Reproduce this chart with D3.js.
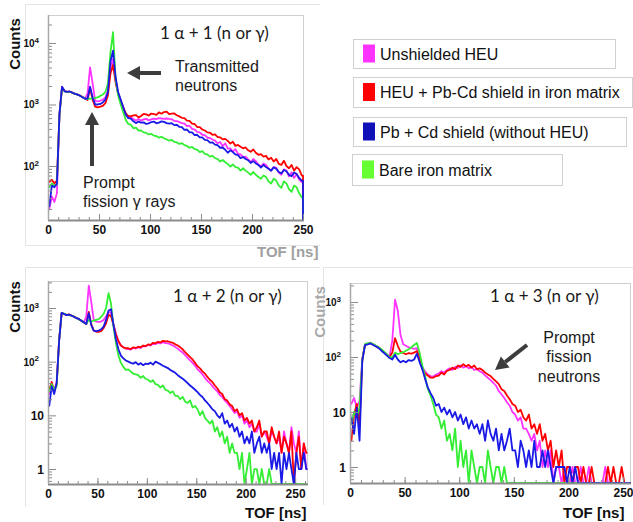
<!DOCTYPE html>
<html>
<head>
<meta charset="utf-8">
<script src="https://cdn.jsdelivr.net/npm/d3@7"></script>
<style>
  body { margin: 0; background: #fff; }
  svg { display: block; }
</style>
</head>
<body>
<script>
// TOF histograms, 2.5 ns bins starting at 0 ns
const binWidth = 2.5;
const seriesNames = ["Unshielded HEU", "HEU + Pb-Cd shield in iron matrix", "Pb + Cd shield (without HEU)", "Bare iron matrix"];
const seriesColors = ["#ff33ff", "#ff0000", "#1a1ae6", "#33ee33"];
const legendSwatch = ["#ff33ff", "#ff0000", "#1010b8", "#66ff33"];
const xTicks = [0, 50, 100, 150, 200, 250];

// panel 1 : 1 alpha + 1 (n or gamma)
const p1Heu = [20,32,26,36, 700,1900, 1660,1610,1600,1570,1510,1440,1410,1330,1260,1500,
  4000,2200,1150,1120,1150,1200,1300,1700, 4000,5500,2500,1500,1150,900,700,620,
  618,582,550,578, 548,572,584,552, 572,588,580,600, 592,582,592,584, 578,542,538,520,
  496,490,444,452, 402,392,358,352, 322,318,288,286, 270,258,234,246, 210,234,192,194,
  172,188,158,154, 140,142,128,116, 130,120,106,98, 110,104,90,84, 96,94,78,72, 88,84,68,79, 64,74,60,55];
const p1Shielded = [55,60,52,58, 700,1900, 1650,1600,1620,1560,1500,1450,1400,1320,1250,1180,
  1850,1200,920,900,920,950,1050,1400, 3200,4400,2300,1500,1150,900,720,650,
  640,665,672,618, 650,705,690,662, 712,700,676,745, 708,752,765,700, 712,715,668,640,
  608,600,548,540, 488,482,430,428, 392,378,352,348, 322,328,296,292, 272,276,256,232,
  248,212,220,206, 194,200,180,170, 186,164,152,156, 142,146,128,136, 118,130,108,104, 122,100,92,104, 84,96,88,70];
const p1PbCd = [22,48,45,52, 700,1950, 1640,1600,1630,1550,1490,1460,1390,1310,1240,1250,
  1950,1300,1000,1000,1020,1080,1200,1600, 5000,7500,2800,1600,1200,900,680,600,
  588,532,498,528, 508,512,482,492, 518,528,494,508, 532,522,498,488, 496,462,468,432,
  428,388,392,352, 352,318,322,292, 292,266,264,240, 242,222,218,198, 200,184,164,180,
  168,154,150,134, 140,130,124,112, 120,110,104,94, 104,96,90,84, 95,90,80,76, 86,82,72,68, 78,74,64,58];
const p1Iron = [45,52,48,50, 680,1850, 1650,1590,1610,1550,1500,1440,1400,1320,1260,1220,
  1250,1250,1280,1300,1380,1450,1600,2200, 7000,15000,2600,1400,1000,750,560,480,
  470,410,420,375, 380,352,345,326, 332,312,306,290, 298,282,272,258, 265,247,242,228,
  235,219,212,198, 204,188,184,168, 174,158,154,142, 146,134,130,118, 125,115,108,98,
  106,96,94,84, 92,84,78,72, 80,72,66,62, 70,66,56,52, 62,58,48,44, 56,52,42,38, 48,45,36,31];

// panel 2 : 1 alpha + 2 (n or gamma)
const p2Heu = [25,35,30,40, 250,790, 770,745,750,715,690,655,615,585,535,700,
  2600,1300,600,560,550,560,600,700, 850,800,500,330,240,200,185,175,
  172,168,180,176, 185,180,195,192, 205,200,215,212, 225,218,230,222, 220,210,200,188,
  175,160,148,132, 118,106,95,84, 72,65,58,50, 44,40,35,31, 28,24,22,19, 17,15,13,11,
  12,9,10,7, 8,6,7,5, 5,7,4,5, 4,3,5,4, 3,4,2,5, 3,2,6,3, 2,5,1,3, 1];
const p2Shielded = [30,42,28,38, 250,800, 780,740,760,720,690,650,620,580,540,500,
  850,500,380,360,360,370,420,520, 750,700,480,320,240,200,185,178,
  178,172,185,180, 190,185,200,195, 210,205,225,220, 235,228,245,238, 240,232,225,210,
  200,185,170,150, 135,122,110,95, 82,75,66,60, 52,46,42,36, 32,27,25,20, 19,16,15,12,
  13,10,11,8, 9,7,8,5, 6,8,4,5, 5,3,6,4, 3,5,2,4, 3,2,5,0, 2,4,1,3, 2];
const p2PbCd = [15,35,25,40, 240,810, 775,735,755,725,685,645,625,575,545,505,
  800,480,380,370,380,400,450,600, 900,950,480,260,170,130,115,105,
  100,95,92,98, 88,94,86,92, 90,96,88,100, 95,90,84,80, 76,70,66,62,
  56,52,48,44, 40,36,33,30, 27,24,22,19, 17,15,13,12, 10,9,11,7, 8,6,7,5,
  6,4,5,3, 4,3,5,2, 3,4,2,3, 2,3,1,2, 1,2,0,2, 1,2,1,0, 2,1,1,2, 1];
const p2Iron = [28,38,30,35, 245,790, 785,750,745,710,695,650,610,590,540,510,
  600,560,580,600,620,680,780,1000, 1900,1200,450,220,130,95,80,70,
  72,65,60,58, 56,50,54,48, 46,42,45,38, 37,33,36,30, 29,26,28,23,
  23,20,22,18, 17,19,14,15, 13,10,12,9, 8,7,8,5, 6,4,5,3, 4,2,3,2,
  2,1,2,0, 1,2,0,1, 1,0,1,0, 0,1,0,0, 0,0,0,0, 0,0,0,0, 0,0,0,0, 0];

// panel 3 : 1 alpha + 3 (n or gamma)
const p3Heu = [14,18,12,16, 90,168, 175,182,170,160,150,136,124,112,102,200,
  1100,700,250,170,160,150,145,140, 145,100,65,55,48,45,44,48,
  50,55,52,58, 62,58,66,63, 70,64,68,62, 66,58,60,55, 52,46,42,38,
  34,30,24,21, 18,15,13,10, 9,7,8,5, 5,4,3,4, 2,3,1,2,
  1,2,0,1, 1,0,1,0, 0,1,0,0, 1,0,0,1, 0,0,0,0, 0,1,0,0, 0,0,0,0, 0,0,0];
const p3Shielded = [3,9,14,6, 90,170, 172,178,168,158,148,135,122,110,100,120,
  220,160,125,118,112,118,115,120, 128,92,60,50,46,42,42,45,
  46,52,48,56, 58,64,60,70, 66,74,68,72, 64,70,60,62, 58,52,48,45,
  40,36,32,26, 24,20,17,14, 13,10,11,8, 7,9,5,6, 4,6,3,4,
  2,3,1,2, 1,2,0,1, 1,0,1,1, 0,1,0,0, 1,0,0,0, 0,0,1,0, 1,0,0,1, 0,0,0];
const p3PbCd = [8,4,12,3, 85,165, 170,176,165,155,145,130,118,106,96,90,
  110,90,80,85,80,88,85,90, 115,80,60,40,28,22,18,13,
  14,10,12,9, 11,8,10,7, 9,6,8,5, 7,5,6,4, 6,3,7,4,
  3,5,2,4, 2,3,5,2, 2,1,3,2, 1,2,1,3, 1,1,2,1,
  2,1,0,1, 1,1,1,0, 1,0,1,0, 0,0,0,0, 0,0,0,0, 0,0,0,0, 0,0,0,0, 0,0,0];
const p3Iron = [6,10,8,12, 88,172, 178,180,172,160,150,138,125,112,100,98,
  120,112,118,122,130,138,150,165, 180,120,70,45,26,20,14,9,
  8,5,7,3, 4,2,5,1, 3,1,2,0, 2,1,0,1, 1,0,2,1,
  0,1,1,0, 1,0,0,0, 0,0,0,0, 0,0,0,0, 0,0,0,0,
  0,0,0,0, 0,0,0,0, 0,0,0,0, 0,0,0,0, 0,0,0,0, 0,0,0];

const W = 633, H = 522;
const svg = d3.select("body").append("svg").attr("width", W).attr("height", H);

const sansBold = "'Liberation Sans Narrow', 'Liberation Sans', Arial, sans-serif";
const sans = "'Liberation Sans', Arial, sans-serif";
const titleFont = "Lato, 'Open Sans', sans-serif";

const panels = [
  { id: 1, left: 48, right: 303, top: 15, bottom: 220, xMax: 250,
    yMin: Math.pow(10, 1.122), yMax: Math.pow(10, 4.455), yTicks: [1e2, 1e3, 1e4],
    data: [p1Heu, p1Shielded, p1PbCd, p1Iron] },
  { id: 2, left: 48, right: 307, top: 281, bottom: 484, xMax: 262,
    yMin: Math.pow(10, -0.279), yMax: Math.pow(10, 3.503), yTicks: [1, 10, 1e2, 1e3],
    data: [p2Heu, p2Shielded, p2PbCd, p2Iron] },
  { id: 3, left: 350, right: 630, top: 283, bottom: 483, xMax: 256.4,
    yMin: Math.pow(10, -0.291), yMax: Math.pow(10, 3.345), yTicks: [1, 10, 1e2, 1e3],
    data: [p3Heu, p3Shielded, p3PbCd, p3Iron] }
];

// faint slide-cut borders round each panel
const border = svg.append("g").attr("stroke", "#e4e4e4").attr("stroke-width", 1).attr("fill", "none");
border.append("path").attr("d", "M25.5,245 V4.5 H320");
border.append("path").attr("d", "M25,245.5 H320");
border.append("path").attr("d", "M25.5,507 V267.5 H320");
border.append("path").attr("d", "M323.5,505 V267.5 H633");

const drawOrder = [0, 1, 3, 2];

function drawPanel(p) {
  const x = d3.scaleLinear().domain([0, p.xMax]).range([p.left, p.right]);
  const y = d3.scaleLog().domain([p.yMin, p.yMax]).range([p.bottom, p.top]).clamp(true);
  const g = svg.append("g");

  const clipId = "clip" + p.id;
  svg.append("clipPath").attr("id", clipId).append("rect")
    .attr("x", p.left - 1).attr("y", p.top).attr("width", p.right - p.left + 2).attr("height", p.bottom - p.top + 1);

  // frame
  g.append("rect")
    .attr("x", p.left + 0.5).attr("y", p.top + 0.5)
    .attr("width", p.right - p.left).attr("height", p.bottom - p.top)
    .attr("fill", "none").attr("stroke", "#cfcfcf");

  const line = d3.line()
    .x(d => x(d[0]))
    .y(d => y(d[1] > 0 ? d[1] : p.yMin));

  drawOrder.forEach(k => {
    const vals = p.data[k];
    // one point per bin centre, plus the histogram edges
    const pts = [[0, vals[0]]].concat(vals.map((v, i) => [(i + 0.5) * binWidth, v]));
    const end = vals.length * binWidth;
    pts.push([end, vals[vals.length - 1]]);
    if (end <= p.xMax) pts.push([end, 0]);
    g.append("path")
      .attr("d", line(pts))
      .attr("fill", "none")
      .attr("stroke", seriesColors[k])
      .attr("stroke-width", 1.8)
      .attr("stroke-linejoin", "round")
      .attr("clip-path", `url(#${clipId})`);
  });

  // x axis: minor and major ticks pointing inward
  const xa = g.append("g").attr("transform", `translate(0,${p.bottom})`);
  xa.call(d3.axisBottom(x).tickValues(d3.range(0, p.xMax + 0.01, 10)).tickSize(-3).tickFormat(""));
  const xb = g.append("g").attr("transform", `translate(0,${p.bottom})`);
  xb.call(d3.axisBottom(x).tickValues(xTicks).tickSize(-6).tickPadding(5).tickFormat(d3.format("d")));
  [xa, xb].forEach(a => {
    a.select(".domain").remove();
    a.selectAll(".tick line").attr("stroke", "#8a8a8a");
  });
  xb.selectAll(".tick text")
    .attr("font-family", sansBold).attr("font-weight", "bold").attr("font-size", 12).attr("fill", "#111");

  // y axis (log)
  const minor = [];
  for (let e = -1; e <= 5; e++) {
    for (let m = 2; m <= 9; m++) {
      const v = m * Math.pow(10, e);
      if (v > p.yMin && v < p.yMax) minor.push(v);
    }
  }
  const ya = g.append("g").attr("transform", `translate(${p.left},0)`);
  ya.call(d3.axisLeft(y).tickValues(minor).tickSize(-4).tickFormat(""));
  const yb = g.append("g").attr("transform", `translate(${p.left},0)`);
  yb.call(d3.axisLeft(y).tickValues(p.yTicks).tickSize(-8).tickPadding(4).tickFormat(""));
  [ya, yb].forEach(a => {
    a.select(".domain").remove();
    a.selectAll(".tick line").attr("stroke", "#8a8a8a");
  });
  yb.selectAll(".tick").each(function(d) {
    const k = Math.round(Math.log10(d));
    const t = d3.select(this).select("text")
      .attr("font-family", sansBold).attr("font-weight", "bold").attr("fill", "#111")
      .attr("dy", "0.35em").text(null);
    if (k >= 2) {
      t.attr("font-size", 10).attr("x", -9);
      t.append("tspan").text("10");
      t.append("tspan").attr("font-size", 8).attr("dy", "-0.55em").text(k);
    } else {
      t.attr("font-size", 12).attr("x", -4).text(k === 1 ? "10" : "1");
    }
  });

  // axis lines
  g.append("line").attr("x1", p.left).attr("x2", p.right + 1).attr("y1", p.bottom + 0.5).attr("y2", p.bottom + 0.5)
    .attr("stroke", "#8c8c8c").attr("stroke-width", 2);
  g.append("line").attr("x1", p.left + 0.5).attr("x2", p.left + 0.5).attr("y1", p.top).attr("y2", p.bottom)
    .attr("stroke", "#a8a8a8").attr("stroke-width", 1.5);
}

panels.forEach(drawPanel);

// text labels
function label(x, y, str, opts) {
  const t = svg.append("text").attr("x", x).attr("y", y).text(str)
    .attr("font-family", opts.family || sans)
    .attr("font-size", opts.size || 16)
    .attr("font-weight", opts.weight || "normal")
    .attr("fill", opts.fill || "#1a1a1a")
    .attr("text-anchor", opts.anchor || "start");
  if (opts.rotate) t.attr("transform", `rotate(${opts.rotate},${x},${y})`);
  return t;
}

label(20, 44, "Counts", { weight: "bold", size: 15, anchor: "middle", rotate: -90, fill: "#111" });
label(20, 307, "Counts", { weight: "bold", size: 15, anchor: "middle", rotate: -90, fill: "#111" });
label(325, 312, "Counts", { weight: "bold", size: 15, anchor: "middle", rotate: -90, fill: "#a8a8a8" });

label(257, 257, "TOF [ns]", { weight: "bold", size: 15, fill: "#a0a0a0" });
label(245, 518, "TOF [ns]", { weight: "bold", size: 15, fill: "#111" });
label(563, 518, "TOF [ns]", { weight: "bold", size: 15, fill: "#111" });

label(160, 39, "1 α + 1 (n or γ)", { family: titleFont, size: 17 });
label(173, 302, "1 α + 2 (n or γ)", { family: titleFont, size: 17 });
label(490, 302, "1 α + 3 (n or γ)", { family: titleFont, size: 17 });

label(175, 72, "Transmitted", {});
label(175, 91, "neutrons", {});
label(83, 188, "Prompt", {});
label(83, 207, "fission  γ rays", {});
label(569, 343, "Prompt", { anchor: "middle" });
label(569, 362, "fission", { anchor: "middle" });
label(569, 382, "neutrons", { anchor: "middle" });

// arrows
function arrow(x1, y1, x2, y2) {
  const a = Math.atan2(y2 - y1, x2 - x1);
  const len = 13, half = 7;
  const bx = x2 - len * Math.cos(a), by = y2 - len * Math.sin(a);
  svg.append("line").attr("x1", x1).attr("y1", y1).attr("x2", bx).attr("y2", by)
    .attr("stroke", "#3c3c3c").attr("stroke-width", 4);
  const pts = [[x2, y2],
    [bx + half * Math.sin(a), by - half * Math.cos(a)],
    [bx - half * Math.sin(a), by + half * Math.cos(a)]];
  svg.append("polygon").attr("points", pts.map(p => p.join(",")).join(" ")).attr("fill", "#3c3c3c");
}
arrow(161, 73, 127, 73);
arrow(92, 166, 92, 112);
arrow(527, 345, 495, 370);

// legend boxes
const legendBoxes = [
  { x: 353, y: 39, w: 262, h: 29 },
  { x: 353, y: 77, w: 279, h: 30 },
  { x: 353, y: 117, w: 273, h: 29 },
  { x: 352, y: 154, w: 210, h: 31 }
];
const leg = svg.append("g");
seriesNames.forEach((name, i) => {
  const b = legendBoxes[i];
  const cy = b.y + b.h / 2;
  leg.append("rect").attr("x", b.x + 0.5).attr("y", b.y + 0.5).attr("width", b.w).attr("height", b.h)
    .attr("fill", "#fff").attr("stroke", "#d0d0d0");
  leg.append("rect").attr("x", b.x + 10).attr("y", cy - 9).attr("width", 12).attr("height", 18)
    .attr("fill", legendSwatch[i]);
  leg.append("text").attr("x", b.x + 27).attr("y", cy + 6).text(name)
    .attr("font-family", sans).attr("font-size", 16).attr("fill", "#111");
});
</script>
</body>
</html>
